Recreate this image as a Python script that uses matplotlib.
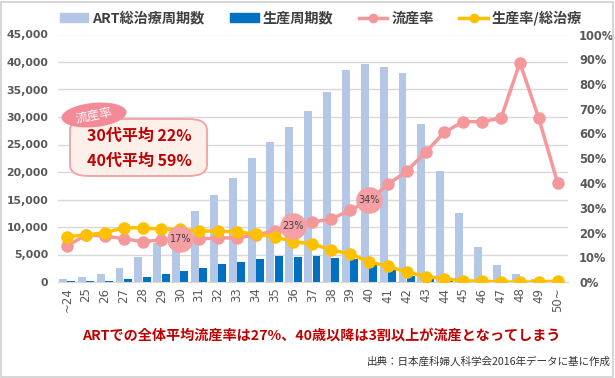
import matplotlib
matplotlib.use("Agg")
import matplotlib.pyplot as plt
from matplotlib.patches import FancyBboxPatch, Ellipse, Rectangle, Patch
from matplotlib.lines import Line2D
import numpy as np

plt.rcParams['font.family'] = ['Noto Sans CJK JP', 'DejaVu Sans']

ages = ["~24", "25", "26", "27", "28", "29", "30", "31", "32", "33", "34", "35", "36",
        "37", "38", "39", "40", "41", "42", "43", "44", "45", "46", "47", "48", "49", "50~"]
total_cycles = [600, 850, 1450, 2600, 4600, 7100, 9300, 12900, 15800, 19000, 22600, 25400, 28200,
                31000, 34500, 38500, 39600, 39050, 37950, 28800, 20150, 12550, 6300, 3130, 1530, 620, 200]
birth_cycles = [150, 150, 150, 600, 970, 1500, 2050, 2600, 3330, 3700, 4240, 4790, 4600,
                4770, 4400, 4170, 3060, 2150, 1170, 620, 200, 60, 30, 10, 5, 0, 0]
miscarriage_rate = [14.5, 19.0, 18.6, 17.5, 16.3, 17.0, 17.4, 17.4, 17.8, 17.8, 19.0, 20.7, 22.8,
                    24.2, 25.5, 28.9, 33.0, 39.4, 44.8, 52.4, 60.5, 64.8, 64.8, 66.2, 88.6, 66.2, 40.0]
birth_rate = [18.3, 19.0, 19.9, 21.9, 21.9, 21.3, 21.3, 20.6, 20.6, 20.2, 19.4, 18.3, 16.3,
              15.4, 13.0, 11.3, 8.2, 6.3, 4.1, 2.2, 1.4, 0.4, 0.4, 0.0, 0.0, 0.0, 0.4]
label_idx = [6, 12, 16]
label_txt = ["17%", "23%", "34%"]

c_light = "#b4c7e7"
c_dark = "#0070c0"
c_pink = "#f4989c"
c_orange = "#ffc000"
c_text = "#595959"
c_red = "#c00000"

fig = plt.figure(figsize=(6.15, 3.78), dpi=100)
ax = fig.add_axes([58/615, 1-282/378, (568-58)/615, (282-34.5)/378])
x = np.arange(len(ages))
w = 0.42
ax.bar(x - 0.22, total_cycles, width=w, color=c_light, zorder=2)
ax.bar(x + 0.22, birth_cycles, width=w, color=c_dark, zorder=2)
ax.set_ylim(0, 45000)
ax.set_yticks(np.arange(0, 45001, 5000))
ax.set_yticklabels([f"{v:,}" for v in range(0, 45001, 5000)], fontsize=7.8,
                   color=c_text, fontweight='bold', family='DejaVu Sans')
ax.set_xlim(-0.48, 26.55)
ax.set_xticks(x)
ax.set_xticklabels(ages, rotation=90, fontsize=8.5, color=c_text, family='DejaVu Sans')
ax.grid(axis='y', color="#d9d9d9", linewidth=1, zorder=0)
ax.set_axisbelow(True)
for s in ['top', 'right', 'left']:
    ax.spines[s].set_visible(False)
ax.spines['bottom'].set_color("#d9d9d9")
ax.tick_params(length=0, pad=4)
ax.tick_params(axis='y', pad=7)

ax2 = ax.twinx()
ax2.set_ylim(0, 100)
ax2.plot(x, miscarriage_rate, color=c_pink, lw=2.5, marker='o', ms=8, zorder=3)
ax2.plot(x, birth_rate, color=c_orange, lw=2.5, marker='o', ms=8, zorder=4)
for i, t in zip(label_idx, label_txt):
    ax2.scatter([x[i]], [miscarriage_rate[i]], s=330, color="#f4a0a4", zorder=5)
    ax2.text(x[i], miscarriage_rate[i], t, ha='center', va='center', fontsize=7,
             color="#404040", zorder=6, family='DejaVu Sans')
ax2.set_yticks(np.arange(0, 101, 10))
ax2.set_yticklabels([f"{v}%" for v in range(0, 101, 10)], fontsize=8.3,
                    color=c_text, fontweight='bold', family='DejaVu Sans')
for s in ax2.spines.values():
    s.set_visible(False)
ax2.tick_params(length=0, pad=8)

handles = [Patch(color=c_light), Patch(color=c_dark),
           Line2D([], [], color=c_pink, lw=2.5, marker='o', ms=6),
           Line2D([], [], color=c_orange, lw=2.5, marker='o', ms=6)]
labels = ["ART総治療周期数", "生産周期数", "流産率", "生産率/総治療"]
fig.legend(handles, labels, loc='center', bbox_to_anchor=(321/615, 1-18/378), ncol=4,
           frameon=False, prop={'size': 10.2, 'weight': 'bold'}, labelcolor="#404040",
           handlelength=2.0, handleheight=0.6, columnspacing=1.8, handletextpad=0.3)

# annotation box
box = FancyBboxPatch((70/615, 1-176/378), (207-70)/615, (176-119)/378,
                     boxstyle="round,pad=0,rounding_size=0.03", transform=fig.transFigure,
                     facecolor="#fdefea", edgecolor="#f4a0a4", lw=1.3, zorder=10)
fig.patches.append(box)
fig.text(139/615, 1-136/378, "30代平均 22%", ha='center', va='center', fontsize=11.5,
         color=c_red, fontweight='bold', zorder=11)
fig.text(139/615, 1-161/378, "40代平均 59%", ha='center', va='center', fontsize=11.5,
         color=c_red, fontweight='bold', zorder=11)
ell = Ellipse((94/615, 1-115/378), 66/615, 24/378, angle=12, transform=fig.transFigure,
              facecolor="#f28a98", edgecolor="none", zorder=12)
fig.patches.append(ell)
fig.text(94/615, 1-115/378, "流産率", ha='center', va='center', fontsize=9,
         color="white", rotation=12, zorder=13)

fig.text(321/615, 1-336/378, "ARTでの全体平均流産率は27%、40歳以降は3割以上が流産となってしまう",
         ha='center', va='center', fontsize=10.2, color=c_red, fontweight='bold')
fig.text(611/615, 1-362/378, "出典：日本産科婦人科学会2016年データに基に作成",
         ha='right', va='center', fontsize=7.6, color="#333333")

fig.patches.append(Rectangle((1/615, 1/378), 612/615, 375/378, transform=fig.transFigure,
                             fill=False, edgecolor="#d0d0d0", lw=1.2))

fig.savefig("out.png", dpi=100)
